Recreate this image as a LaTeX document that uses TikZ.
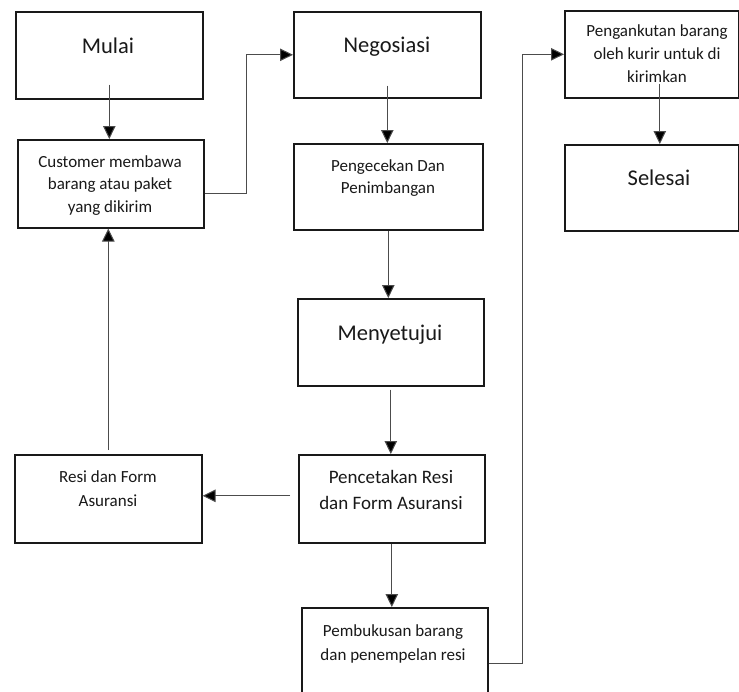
\documentclass[tikz,border=0pt]{standalone}
\usepackage{fontspec}
\setmainfont{Carlito}
\usetikzlibrary{arrows.meta}
\begin{document}
\begin{tikzpicture}[x=1pt,y=-1pt,
  box/.style={draw=black!90, line width=1.6pt, inner sep=0pt, anchor=north west},
  arr/.style={draw=black!70, line width=1pt, -{Triangle[length=13pt,width=12.5pt,fill=black]}},
  big/.style={font=\fontsize{22.5}{27}\selectfont, text=black!90, anchor=base, inner sep=0pt},
  mid/.style={font=\fontsize{19}{23}\selectfont, text=black!90, anchor=base, inner sep=0pt},
  sml/.style={font=\fontsize{17}{21}\selectfont, text=black!90, anchor=base, inner sep=0pt}]
\useasboundingbox (0,0) rectangle (739,691);
\clip (0,0) rectangle (739,691);
\fill[white] (0,0) rectangle (739,691);
% boxes
\node[box, minimum width=187pt, minimum height=87pt] (mulai) at (15,11) {};
\node[box, minimum width=186pt, minimum height=88pt] (cust) at (17,139) {};
\node[box, minimum width=187pt, minimum height=86pt] (nego) at (293,11) {};
\node[box, minimum width=189pt, minimum height=86pt] (cek) at (293,143) {};
\node[box, minimum width=186pt, minimum height=87pt] (setuju) at (297,298) {};
\node[box, minimum width=186pt, minimum height=88pt] (cetak) at (298,454) {};
\node[box, minimum width=187pt, minimum height=88pt] (resi) at (14,454) {};
\node[box, minimum width=186pt, minimum height=100pt] (buku) at (301,607) {};
\node[box, minimum width=174pt, minimum height=87pt] (angkut) at (564,10) {};
\node[box, minimum width=174pt, minimum height=86pt] (selesai) at (564,144) {};
% texts
\node[big] (tmulai) at (108,53) {Mulai};
\node[sml] (tc1) at (110,167) {Customer membawa};
\node[sml] (tc2) at (110,189) {barang atau paket};
\node[sml] (tc3) at (110,212) {yang dikirim};
\node[big] (tnego) at (387,52) {Negosiasi};
\node[sml] (tk1) at (388,171) {Pengecekan Dan};
\node[sml] (tk2) at (388,193) {Penimbangan};
\node[sml] (ta1) at (657,36) {Pengankutan barang};
\node[sml] (ta2) at (657,59) {oleh kurir untuk di};
\node[sml] (ta3) at (657,82) {kirimkan};
\node[big] (tsel) at (659,185) {Selesai};
\node[big] (tset) at (390,340) {Menyetujui};
\node[mid] (tp1) at (391,483) {Pencetakan Resi};
\node[mid] (tp2) at (391,509) {dan Form Asuransi};
\node[sml] (tr1) at (108,482) {Resi dan Form};
\node[sml] (tr2) at (108,506) {Asuransi};
\node[sml] (tb1) at (393,636) {Pembukusan barang};
\node[sml] (tb2) at (393,660) {dan penempelan resi};
% connectors
\draw[arr] ([yshift=15pt]mulai.south) -- (mulai.south |- cust.north);
\draw[arr] ([yshift=-10pt]cust.east) -- ++(42,0) |- (nego.west);
\draw[arr] ([yshift=13pt]nego.south) -- (nego.south |- cek.north);
\draw[arr] (cek.south) -- (cek.south |- setuju.north);
\draw[arr] ([yshift=-3pt]setuju.south) -- (setuju.south |- cetak.north);
\draw[arr] ([xshift=-8pt,yshift=3pt]cetak.west) -- ([yshift=3pt]resi.east);
\draw[arr] (cetak.south) -- (cetak.south |- buku.north);
\draw[arr] ([yshift=4pt]resi.north) -- (resi.north |- cust.south);
\draw[arr] ([yshift=-6pt]buku.east) -- ++(34,0) |- (angkut.west);
\draw[arr] ([xshift=8pt,yshift=15pt]angkut.south) -- ([xshift=8pt]selesai.north);
\end{tikzpicture}
\end{document}
